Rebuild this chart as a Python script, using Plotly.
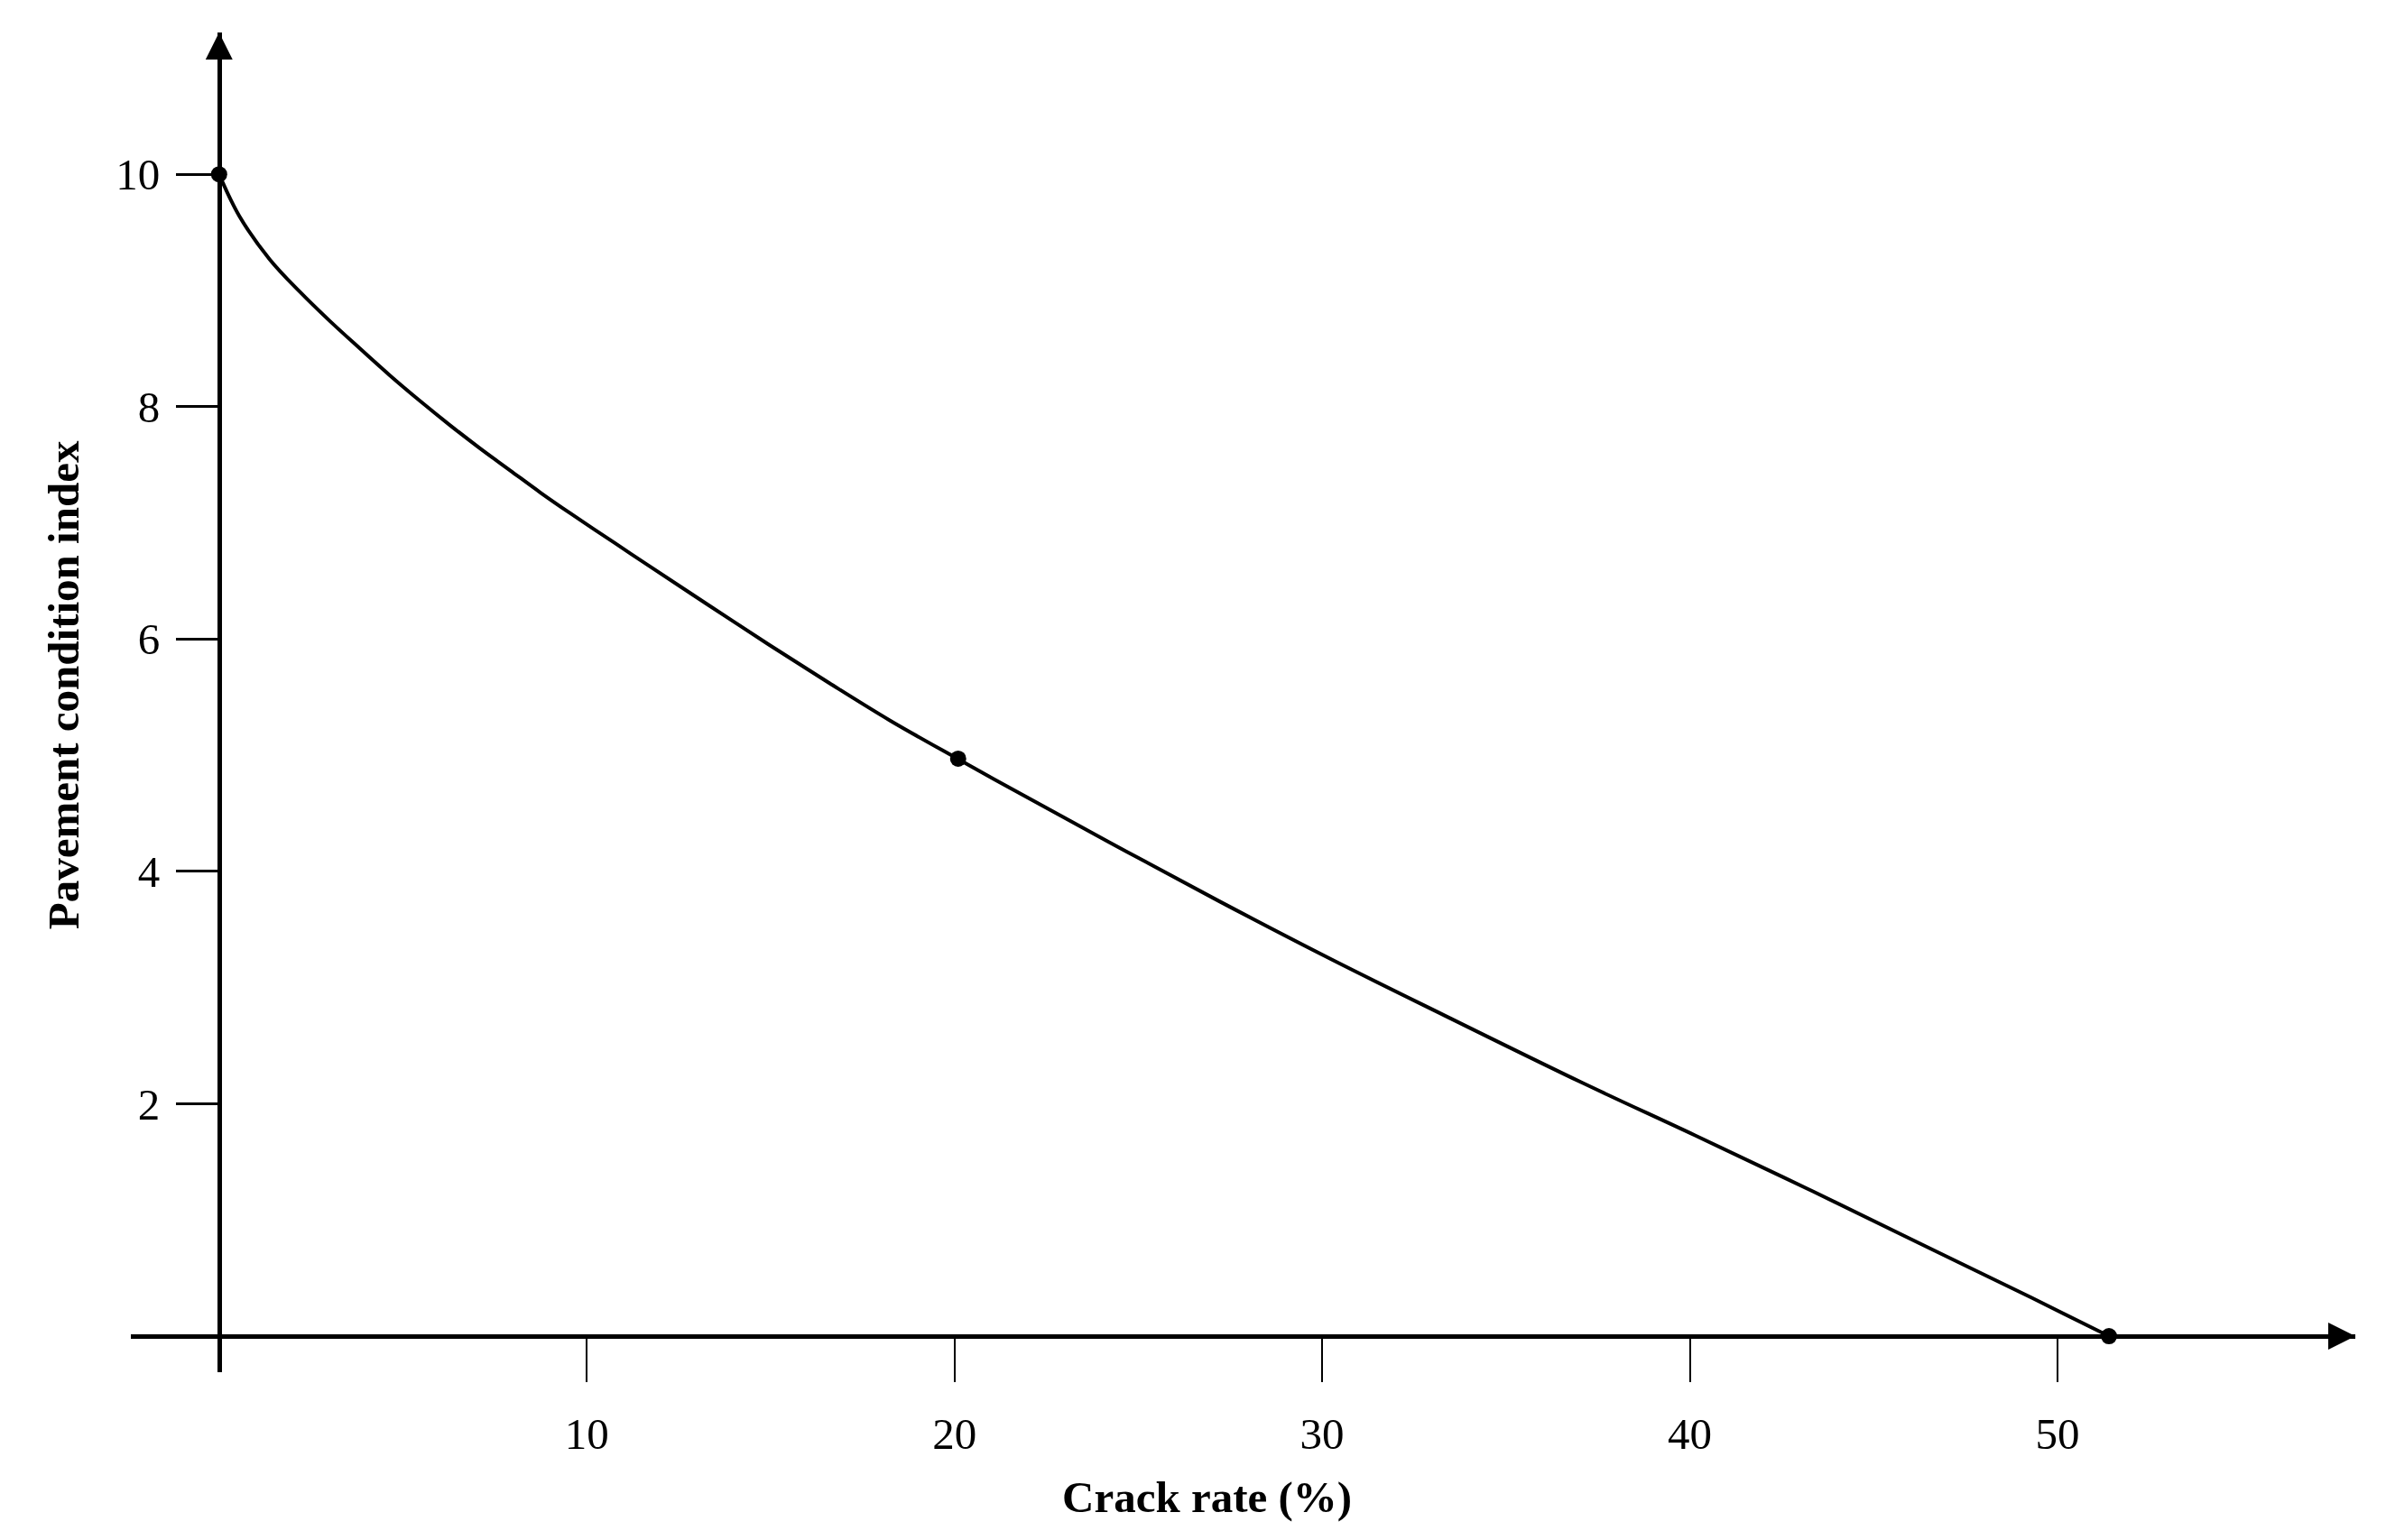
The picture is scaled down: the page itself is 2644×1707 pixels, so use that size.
import plotly.graph_objects as go

# curve (crack rate %, condition index)
crack_rate = [0, 0.55, 1.37, 2.19, 3.0, 3.83, 4.64, 5.46, 6.28, 7.10, 7.92, 8.74,
              9.56, 10.79, 11.69, 13.32, 14.96, 16.60, 18.24, 20.08, 21.1, 24.16,
              27.22, 30.27, 33.33, 37.08, 40.13, 43.19, 46.24, 49.30, 51.4]
condition = [10, 9.64, 9.27, 8.99, 8.74, 8.50, 8.27, 8.05, 7.84, 7.64, 7.45, 7.26,
             7.08, 6.82, 6.63, 6.29, 5.95, 5.62, 5.30, 4.97, 4.79, 4.26,
             3.74, 3.24, 2.76, 2.18, 1.73, 1.27, 0.80, 0.33, 0]

# the three marked points
key_x = [0, 20.1, 51.4]
key_y = [10, 4.97, 0]

x_ticks = [10, 20, 30, 40, 50]
y_ticks = [2, 4, 6, 8, 10]

x_range = [-2.4, 58.1]
y_range = [-0.31, 11.22]

serif = "Liberation Serif, Times New Roman, serif"

fig = go.Figure()
fig.add_trace(go.Scatter(x=crack_rate, y=condition, mode="lines",
                         line=dict(color="black", width=4, shape="spline", smoothing=1.0),
                         hoverinfo="skip"))
fig.add_trace(go.Scatter(x=key_x, y=key_y, mode="markers",
                         marker=dict(color="black", size=18), cliponaxis=False))

xpos = (0 - y_range[0]) / (y_range[1] - y_range[0])
ypos = (0 - x_range[0]) / (x_range[1] - x_range[0])

fig.update_layout(
    width=2644, height=1707,
    margin=dict(l=137, r=42, t=28, b=194),
    paper_bgcolor="white", plot_bgcolor="white",
    showlegend=False,
    font=dict(family=serif, size=49, color="black"),
    xaxis=dict(range=x_range, anchor="free", position=xpos,
               showgrid=False, zeroline=False,
               showline=True, linecolor="black", linewidth=4.5,
               ticks="outside", ticklen=48, tickwidth=1.8, tickcolor="black",
               tickvals=x_ticks, ticklabelstandoff=15,
               tickfont=dict(family=serif, size=49)),
    yaxis=dict(range=y_range, anchor="free", position=ypos,
               showgrid=False, zeroline=False,
               showline=True, linecolor="black", linewidth=4.5,
               ticks="outside", ticklen=46, tickwidth=2.5, tickcolor="black",
               tickvals=y_ticks, ticklabelstandoff=8,
               tickfont=dict(family=serif, size=49)),
)

# arrow heads at the ends of both axes
fig.add_annotation(x=x_range[1], y=0, ax=-40, ay=0, text="", showarrow=True,
                   arrowhead=2, arrowsize=2, arrowwidth=3, arrowcolor="black")
fig.add_annotation(x=0, y=y_range[1], ax=0, ay=40, text="", showarrow=True,
                   arrowhead=2, arrowsize=2, arrowwidth=3, arrowcolor="black")

# axis titles
fig.add_annotation(x=0.4836, y=-0.0935, xref="paper", yref="paper", showarrow=False,
                   text="<b>Crack rate (%)</b>", font=dict(family=serif, size=49),
                   xanchor="center", yanchor="middle")
fig.add_annotation(x=-0.0304, y=0.513, xref="paper", yref="paper", showarrow=False,
                   text="<b>Pavement condition index</b>", textangle=-90,
                   font=dict(family=serif, size=49),
                   xanchor="center", yanchor="middle")

fig.write_html("out.html")
